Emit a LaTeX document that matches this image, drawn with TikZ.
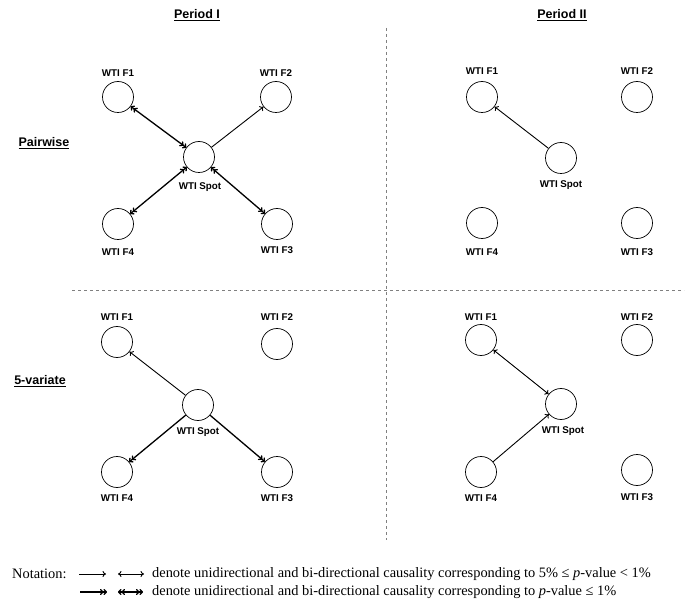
\documentclass[tikz,border=0pt]{standalone}
\usepackage{fontspec}
\setmainfont{Liberation Serif}
\newfontfamily\labfont{Liberation Sans}
\usetikzlibrary{arrows.meta}
\begin{document}
\begin{tikzpicture}[x=1pt,y=-1pt,
  var/.style={circle,draw,line width=0.7pt,minimum size=31pt,inner sep=0pt},
  lab/.style={font=\labfont\bfseries\fontsize{9.8}{10}\selectfont,inner sep=0pt},
  ttl/.style={font=\labfont\bfseries\fontsize{12.5}{13}\selectfont,inner sep=0pt},
  note/.style={font=\fontsize{14.4}{16}\selectfont,inner sep=0pt,anchor=west},
  weakuni/.style={line width=0.9pt,-{To[length=3.5pt,width=6pt]}},
  weakbi/.style={line width=0.9pt,{To[length=3.5pt,width=6pt]}-{To[length=3.5pt,width=6pt]}},
  stronguni/.style={line width=1.3pt,-{To[length=3.5pt,width=6pt]To[length=3.5pt,width=6pt]}},
  strongbi/.style={line width=1.3pt,{To[length=3.5pt,width=6pt]To[length=3.5pt,width=6pt]}-{To[length=3.5pt,width=6pt]To[length=3.5pt,width=6pt]}},
  divider/.style={dashed,gray,line width=0.5pt}
]
\useasboundingbox[fill=white] (0,0) rectangle (686,604);

% titles
\node[ttl] (t1) at (197,15) {\underline{Period I}};
\node[ttl] (t2) at (562,15) {\underline{Period II}};
\node[ttl] (r1) at (44,143) {\underline{Pairwise}};
\node[ttl] (r2) at (40,381) {\underline{5-variate}};

% dividers
\draw[divider] (386,28) -- (386,540);
\draw[divider] (72,290) -- (684,290);

% Pairwise, Period I
\node[var] (a1) at (118,97) {};
\node[var] (a2) at (276,97) {};
\node[var] (as) at (199,157) {};
\node[var] (a4) at (118,224) {};
\node[var] (a3) at (277,224) {};
\node[lab] (a1l) at (118,73) {WTI F1};
\node[lab] (a2l) at (276,73) {WTI F2};
\node[lab] (asl) at (200,187) {WTI Spot};
\node[lab] (a4l) at (118,252) {WTI F4};
\node[lab] (a3l) at (277,250) {WTI F3};
\draw[strongbi] (a1) -- (as);
\draw[weakuni] (as) -- (a2);
\draw[strongbi] (as) -- (a4);
\draw[strongbi] (as) -- (a3);

% Pairwise, Period II
\node[var] (b1) at (482,97) {};
\node[var] (b2) at (637,97) {};
\node[var] (bs) at (561,158) {};
\node[var] (b4) at (482,223) {};
\node[var] (b3) at (637,223) {};
\node[lab] (b1l) at (482,71) {WTI F1};
\node[lab] (b2l) at (637,71) {WTI F2};
\node[lab] (bsl) at (561,185) {WTI Spot};
\node[lab] (b4l) at (482,252) {WTI F4};
\node[lab] (b3l) at (637,252) {WTI F3};
\draw[weakuni] (bs) -- (b1);

% 5-variate, Period I
\node[var] (c1) at (117,342) {};
\node[var] (c2) at (277,344) {};
\node[var] (cs) at (198,405) {};
\node[var] (c4) at (117,472) {};
\node[var] (c3) at (277,472) {};
\node[lab] (c1l) at (117,317) {WTI F1};
\node[lab] (c2l) at (277,317) {WTI F2};
\node[lab] (csl) at (198,432) {WTI Spot};
\node[lab] (c4l) at (117,498) {WTI F4};
\node[lab] (c3l) at (277,498) {WTI F3};
\draw[weakuni] (cs) -- (c1);
\draw[stronguni] (cs) -- (c4);
\draw[stronguni] (cs) -- (c3);

% 5-variate, Period II
\node[var] (d1) at (481,340) {};
\node[var] (d2) at (637,340) {};
\node[var] (ds) at (561,404) {};
\node[var] (d4) at (481,472) {};
\node[var] (d3) at (637,470) {};
\node[lab] (d1l) at (481,317) {WTI F1};
\node[lab] (d2l) at (637,317) {WTI F2};
\node[lab] (dsl) at (563,431) {WTI Spot};
\node[lab] (d4l) at (481,498) {WTI F4};
\node[lab] (d3l) at (637,497) {WTI F3};
\draw[weakbi] (d1) -- (ds);
\draw[weakuni] (d4) -- (ds);

% notation
\node[note] (n0) at (12,574) {Notation:};
\coordinate (e1a) at (79,574);
\coordinate (e1b) at (106,574);
\coordinate (e1c) at (118,574);
\coordinate (e1d) at (144,574);
\draw[weakuni] (e1a) -- (e1b);
\draw[weakbi] (e1c) -- (e1d);
\node[note] (n1) at (152,574) {denote unidirectional and bi-directional causality corresponding to 5\% ≤ \textit{p}-value < 1\%};
\coordinate (e2a) at (80,592);
\coordinate (e2b) at (107,592);
\coordinate (e2c) at (118,592);
\coordinate (e2d) at (143,592);
\draw[stronguni] (e2a) -- (e2b);
\draw[strongbi] (e2c) -- (e2d);
\node[note] (n2) at (152,592) {denote unidirectional and bi-directional causality corresponding to \textit{p}-value ≤ 1\%};
\end{tikzpicture}
\end{document}
